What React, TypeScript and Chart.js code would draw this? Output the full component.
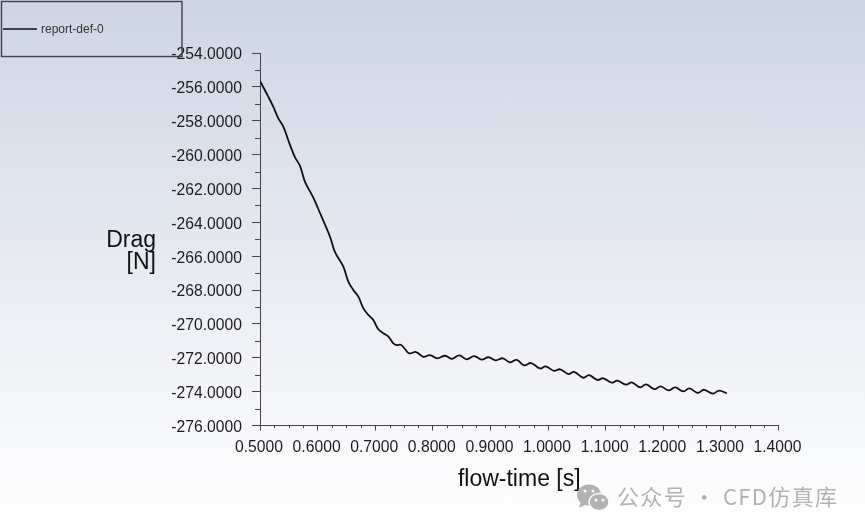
import React, { useEffect, useRef } from "react";
import { Chart, registerables } from "chart.js";

Chart.register(...registerables);

const seriesName = "report-def-0";
const xTitle = "flow-time [s]";
const yTitleLines = ["Drag", "[N]"];
const watermark = "公众号 · CFD仿真库";

const flowTime = [
  0.5, 0.5144, 0.523, 0.5318, 0.5405, 0.549, 0.555, 0.5608, 0.5694, 0.578, 0.587, 0.594, 0.601,
  0.6215, 0.63, 0.6446, 0.6533, 0.662, 0.6707, 0.6794, 0.688, 0.6967, 0.7054, 0.714, 0.7228,
  0.7315, 0.7373, 0.7443, 0.7517, 0.759, 0.7708, 0.7835, 0.795, 0.8078, 0.8212, 0.8328, 0.846,
  0.8588, 0.8715, 0.8849, 0.8964, 0.9092, 0.9214, 0.934, 0.9457, 0.9583, 0.9705, 0.9861, 0.996,
  1.0104, 1.0208, 1.0353, 1.0451, 1.0613, 1.0712, 1.0856, 1.096, 1.1106, 1.1203, 1.1354, 1.1453,
  1.1597, 1.1701, 1.1846, 1.1957, 1.2089, 1.2205, 1.235, 1.2453, 1.2599, 1.2708, 1.2859, 1.2969,
  1.3102,
];
const drag = [
  -255.65, -256.58, -257.17, -257.86, -258.35, -259.14, -259.69, -260.16, -260.67, -261.6, -262.19,
  -262.64, -263.2, -264.85, -265.74, -266.62, -267.5, -268.0, -268.39, -269.08, -269.47, -269.77,
  -270.32, -270.55, -270.75, -271.15, -271.25, -271.23, -271.49, -271.74, -271.66, -271.94, -271.84,
  -272.04, -271.88, -272.06, -271.86, -272.09, -271.9, -272.11, -271.97, -272.15, -272.03, -272.27,
  -272.13, -272.45, -272.31, -272.63, -272.51, -272.77, -272.68, -272.96, -272.84, -273.18, -273.02,
  -273.31, -273.21, -273.47, -273.35, -273.59, -273.45, -273.75, -273.57, -273.85, -273.69, -273.93,
  -273.75, -273.99, -273.81, -274.07, -273.89, -274.12, -273.94, -274.1,
];

const FONT = '"Liberation Sans", Arial, sans-serif';
const INK = "#1c1c1c";
const AXIS = "#444";

const minorX = [] as number[];
for (let k = 0; k <= 36; k++) if (k % 4 !== 0) minorX.push(0.5 + k * 0.025);
const minorY = [] as number[];
for (let v = -275; v <= -255; v += 2) minorY.push(v);

const decorations = {
  id: "decorations",
  afterDraw(chart: any) {
    const { ctx, scales } = chart;
    const xs = scales.x;
    const ys = scales.y;
    ctx.save();
    // minor ticks
    ctx.strokeStyle = AXIS;
    ctx.lineWidth = 1;
    ctx.beginPath();
    minorX.forEach((v) => {
      const p = Math.round(xs.getPixelForValue(v)) + 0.5;
      ctx.moveTo(p, ys.bottom);
      ctx.lineTo(p, ys.bottom + 2.5);
    });
    minorY.forEach((v) => {
      const p = Math.round(ys.getPixelForValue(v)) + 0.5;
      ctx.moveTo(xs.left, p);
      ctx.lineTo(xs.left - 5, p);
    });
    ctx.stroke();

    // y title
    ctx.fillStyle = "#111";
    ctx.font = `23px ${FONT}`;
    ctx.textAlign = "right";
    ctx.textBaseline = "middle";
    ctx.fillText(yTitleLines[0], 156, 241);
    ctx.fillText(yTitleLines[1], 156, 263);

    // legend box
    ctx.strokeStyle = "#3c4048";
    ctx.lineWidth = 1.4;
    ctx.strokeRect(1.5, 1.5, 180.5, 55);
    ctx.strokeStyle = "#111";
    ctx.lineWidth = 1.6;
    ctx.beginPath();
    ctx.moveTo(3, 29);
    ctx.lineTo(37, 29);
    ctx.stroke();
    ctx.fillStyle = "#333";
    ctx.font = `12px ${FONT}`;
    ctx.textAlign = "left";
    ctx.fillText(seriesName, 41, 29.5);

    // watermark
    ctx.fillStyle = "#b2b2b2";
    ctx.beginPath();
    ctx.ellipse(589, 495, 12, 10.5, 0, 0, Math.PI * 2);
    ctx.fill();
    ctx.beginPath();
    ctx.moveTo(581, 501);
    ctx.lineTo(579, 508);
    ctx.lineTo(587, 504);
    ctx.fill();
    ctx.strokeStyle = "#fbfbfd";
    ctx.lineWidth = 1.5;
    ctx.fillStyle = "#b2b2b2";
    ctx.beginPath();
    ctx.ellipse(599, 502, 10, 8.5, 0, 0, Math.PI * 2);
    ctx.fill();
    ctx.stroke();
    ctx.fillStyle = "#fbfbfd";
    [[585, 491], [593, 491], [596, 500], [603, 500]].forEach(([a, b]) => {
      ctx.beginPath();
      ctx.arc(a, b, 1.5, 0, Math.PI * 2);
      ctx.fill();
    });
    ctx.fillStyle = "#b2b2b2";
    ctx.font = '22px "Noto Sans CJK SC", sans-serif';
    (ctx as any).letterSpacing = "1.35px";
    ctx.fillText(watermark, 617, 497);
    ctx.restore();
  },
};

export default function App() {
  const ref = useRef<HTMLCanvasElement>(null);
  useEffect(() => {
    if (!ref.current) return;
    const chart = new Chart(ref.current, {
      type: "line",
      data: {
        datasets: [
          {
            label: seriesName,
            data: flowTime.map((t, i) => ({ x: t, y: drag[i] })),
            borderColor: "#111",
            borderWidth: 1.8,
            pointRadius: 0,
            tension: 0.4,
          },
        ],
      },
      options: {
        responsive: false,
        animation: false,
        layout: { padding: { left: 0, top: 53, right: 86.5, bottom: 39 } },
        plugins: { legend: { display: false }, tooltip: { enabled: false } },
        scales: {
          x: {
            type: "linear",
            min: 0.5,
            max: 1.4,
            afterFit(s: any) {
              s.height = 67.5;
            },
            border: { color: AXIS, width: 1 },
            grid: { drawOnChartArea: false, tickLength: 5, color: AXIS },
            title: {
              display: true,
              text: xTitle,
              color: "#111",
              font: { family: FONT, size: 23 },
              padding: 0,
            },
            ticks: {
              stepSize: 0.1,
              autoSkip: false,
              maxRotation: 0,
              padding: 8,
              labelOffset: -1,
              color: INK,
              font: { family: FONT, size: 15.7 },
              callback: (v: any) => Number(v).toFixed(4),
            },
          },
          y: {
            type: "linear",
            min: -276,
            max: -254,
            afterFit(s: any) {
              s.width = 260;
            },
            border: { color: AXIS, width: 1 },
            grid: { drawOnChartArea: false, tickLength: 8, color: AXIS },
            ticks: {
              stepSize: 2,
              autoSkip: false,
              padding: 10,
              labelOffset: 2,
              color: INK,
              font: { family: FONT, size: 15.7 },
              callback: (v: any) => Number(v).toFixed(4),
            },
          },
        },
      },
      plugins: [decorations],
    } as any);
    return () => chart.destroy();
  }, []);
  return (
    <div
      style={{
        position: "fixed",
        left: 0,
        top: 0,
        width: 865,
        height: 532,
        background:
          "linear-gradient(180deg, #cdd5e4 0%, #e1e5ee 38%, #f0f2f7 66%, #ffffff 100%)",
      }}
    >
      <canvas ref={ref} width={865} height={532} style={{ display: "block" }} />
    </div>
  );
}
